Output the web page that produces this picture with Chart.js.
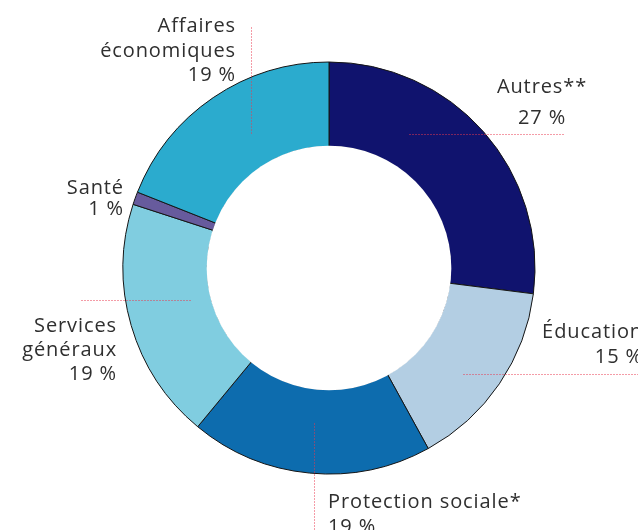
<!DOCTYPE html>
<html>
<head>
<meta charset="utf-8">
<script src="https://cdn.jsdelivr.net/npm/chart.js@4/dist/chart.umd.min.js"></script>
<style>
  html, body { margin: 0; padding: 0; background: #fff; }
  #wrap { width: 638px; height: 530px; position: relative; }
</style>
</head>
<body>
<div id="wrap"><canvas id="chart"></canvas></div>
<script>
const categories = ['Autres**', 'Éducation', 'Protection sociale*', 'Services généraux', 'Santé', 'Affaires économiques'];
const values = [27, 15, 19, 19, 1, 19];
const colors = ['#10136e', '#b3cee3', '#0d6cae', '#80cde0', '#675b9d', '#2babce'];

// label text lines, one entry per category
const labelLines = [
  ['Autres**', '27 %'],
  ['Éducation', '15 %'],
  ['Protection sociale*', '19 %'],
  ['Services', 'généraux', '19 %'],
  ['Santé', '1 %'],
  ['Affaires', 'économiques', '19 %']
];

// where each label and its dotted leader go (canvas px)
const labelPlace = [
  { x: 542, y: 93, align: 'center', step: 31, lead: [409, 134, 565, 134] },
  { x: 643, y: 338, align: 'right', step: 25, lead: [463, 374, 640, 374] },
  { x: 328, y: 508, align: 'left', step: 25, lead: [314, 423, 314, 530] },
  { x: 117, y: 332, align: 'right', step: 24, lead: [81, 300, 192, 300] },
  { x: 124, y: 194, align: 'right', step: 21, lead: null },
  { x: 236, y: 32, align: 'right', step: 24.5, lead: [251, 27, 251, 133] }
];

const labelPlugin = {
  id: 'sliceLabels',
  afterDatasetsDraw(chart) {
    const ctx = chart.ctx;
    const arc = chart.getDatasetMeta(0).data[0];
    ctx.save();
    // hide the border on the inner edge of the ring
    ctx.beginPath();
    ctx.fillStyle = '#fff';
    ctx.arc(arc.x, arc.y, arc.innerRadius + 0.8, 0, Math.PI * 2);
    ctx.fill();

    ctx.strokeStyle = '#e8384f';
    ctx.lineWidth = 1;
    ctx.setLineDash([1, 2]);
    labelPlace.forEach(p => {
      if (!p.lead) return;
      ctx.beginPath();
      ctx.moveTo(p.lead[0] + 0.5, p.lead[1] + 0.5);
      ctx.lineTo(p.lead[2] + 0.5, p.lead[3] + 0.5);
      ctx.stroke();
    });
    ctx.setLineDash([]);

    ctx.fillStyle = '#2f2f2f';
    ctx.font = '400 20px "Open Sans", sans-serif';
    ctx.letterSpacing = '0.9px';
    ctx.textBaseline = 'alphabetic';
    labelLines.forEach((lines, i) => {
      const p = labelPlace[i];
      ctx.textAlign = p.align;
      lines.forEach((t, k) => {
        ctx.fillText(t, p.x, p.y + k * p.step);
      });
    });
    ctx.restore();
  }
};

new Chart(document.getElementById('chart'), {
  type: 'doughnut',
  data: {
    labels: categories,
    datasets: [{
      data: values,
      backgroundColor: colors,
      borderColor: '#151515',
      borderWidth: 1,
      hoverOffset: 0
    }]
  },
  options: {
    responsive: true,
    maintainAspectRatio: false,
    animation: false,
    radius: 206,
    cutout: '59%',
    layout: { padding: { left: 20, right: 0, top: 6, bottom: 0 } },
    plugins: {
      legend: { display: false },
      tooltip: { enabled: false }
    }
  },
  plugins: [labelPlugin]
});
</script>
</body>
</html>
